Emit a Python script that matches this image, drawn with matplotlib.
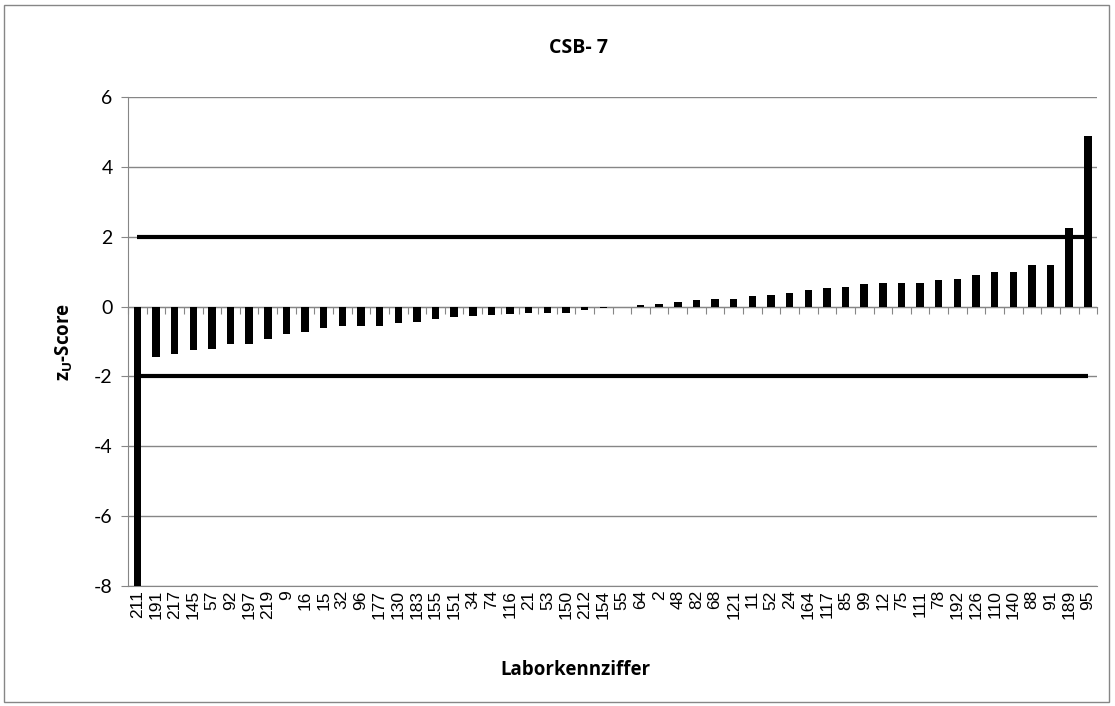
import matplotlib.pyplot as plt
from matplotlib.patches import Rectangle
import numpy as np

plt.rcParams['axes.unicode_minus'] = False

# Laborkennziffern und z_U-Scores
labore = ['211', '191', '217', '145', '57', '92', '197', '219', '9', '16',
          '15', '32', '96', '177', '130', '183', '155', '151', '34', '74',
          '116', '21', '53', '150', '212', '154', '55', '64', '2', '48',
          '82', '68', '121', '11', '52', '24', '164', '117', '85', '99',
          '12', '75', '111', '78', '192', '126', '110', '140', '88', '91',
          '189', '95']
z_scores = [-8.0, -1.45, -1.36, -1.24, -1.22, -1.08, -1.08, -0.92, -0.79, -0.74,
            -0.62, -0.56, -0.56, -0.56, -0.48, -0.44, -0.36, -0.30, -0.27, -0.24,
            -0.22, -0.19, -0.17, -0.17, -0.09, -0.03, 0.0, 0.05, 0.08, 0.13,
            0.18, 0.21, 0.21, 0.31, 0.32, 0.375, 0.47, 0.52, 0.57, 0.66,
            0.67, 0.67, 0.67, 0.76, 0.78, 0.91, 1.0, 1.0, 1.18, 1.19,
            2.26, 4.88]
grenze_oben = 2
grenze_unten = -2

grau = '#868686'
fett = 'Open Sans'

fig = plt.figure(figsize=(11.15, 7.06), dpi=100)
ax = fig.add_axes([0.1148, 0.170, 0.8692, 0.6926])

x = np.arange(len(labore))

ax.set_axisbelow(True)
ax.yaxis.grid(True, color=grau, lw=1)
ax.bar(x, z_scores, width=0.4, color='black', zorder=3)

# Grenzlinien +/-2
ax.plot(x, [grenze_oben] * len(x), color='black', lw=3, zorder=4, solid_capstyle='butt')
ax.plot(x, [grenze_unten] * len(x), color='black', lw=3, zorder=4, solid_capstyle='butt')

ax.set_xlim(-0.5, len(labore) - 0.5)
ax.set_ylim(-8, 6)
ax.set_yticks(range(-8, 7, 2))

for s in ['top', 'right']:
    ax.spines[s].set_visible(False)
ax.spines['left'].set_color(grau)
ax.spines['bottom'].set_color(grau)

ax.set_xticks(x)
ax.set_xticklabels(labore, rotation=90, fontsize=12.5, family='Liberation Sans')
ax.tick_params(axis='x', length=0, pad=3)
ax.tick_params(axis='y', length=5, color=grau, labelsize=14, pad=6)
for lab in ax.get_yticklabels():
    lab.set_family('Lato')

# Kategorienachse bei y = 0 mit Teilstrichen zwischen den Kategorien
sec = ax.secondary_xaxis(0, transform=ax.transData)
sec.set_xticks(np.arange(len(labore) + 1) - 0.5)
sec.set_xticklabels([])
sec.tick_params(axis='x', length=5, color=grau, direction='out')
sec.spines['bottom'].set_color(grau)

ax.set_title('CSB- 7', fontsize=14, fontweight='bold', family=fett, pad=32, x=0.465)
ax.set_xlabel('Laborkennziffer', fontsize=13.5, fontweight='bold', family=fett, labelpad=29)
ax.xaxis.label.set_x(0.462)
ax.set_ylabel(r'z$_\mathregular{U}$-Score', fontsize=13.5, fontweight='bold', family=fett, labelpad=14)

fig.patches.append(Rectangle((0.004, 0.005), 0.991, 0.988, transform=fig.transFigure,
                             fill=False, edgecolor=grau, lw=1))

fig.savefig('out.png', dpi=100, facecolor='white')
